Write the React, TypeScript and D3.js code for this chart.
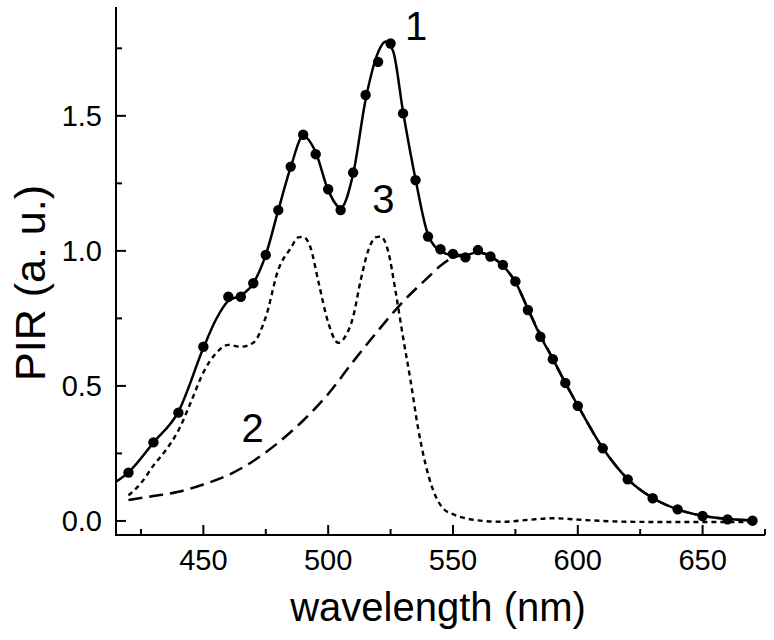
import React from "react";
import * as d3 from "d3";

// Measured points (filled circles), curve 1
const dotWavelengths = [420, 430, 440, 450, 460, 465, 470, 475, 480, 485, 490, 495, 500, 505, 510, 515, 520, 525, 530, 535, 540, 545, 550, 555, 560, 565, 570, 575, 580, 585, 590, 595, 600, 610, 620, 630, 640, 650, 660, 670];
const dotValues = [0.179, 0.291, 0.401, 0.645, 0.830, 0.830, 0.880, 0.985, 1.151, 1.312, 1.430, 1.358, 1.228, 1.151, 1.290, 1.577, 1.700, 1.768, 1.509, 1.262, 1.053, 1.006, 0.989, 0.976, 1.003, 0.979, 0.948, 0.887, 0.781, 0.682, 0.599, 0.511, 0.426, 0.269, 0.154, 0.084, 0.043, 0.0185, 0.006, 0.001];

// Fit line (solid), curve 1
const fitWavelengths = [415, 420, 430, 440, 450, 455, 460, 465, 470, 475, 480, 485, 490, 495, 500, 505, 510, 515, 520, 523, 526, 530, 535, 540, 545, 550, 555, 560, 565, 570, 575, 580, 585, 590, 595, 600, 610, 620, 630, 640, 650, 660, 670];
const fitValues = [0.145, 0.180, 0.290, 0.405, 0.640, 0.745, 0.815, 0.835, 0.880, 0.985, 1.150, 1.310, 1.425, 1.365, 1.225, 1.160, 1.285, 1.560, 1.735, 1.775, 1.740, 1.515, 1.265, 1.060, 1.000, 0.985, 0.985, 0.995, 0.980, 0.945, 0.885, 0.785, 0.685, 0.600, 0.510, 0.428, 0.270, 0.155, 0.085, 0.043, 0.019, 0.007, 0.002];

// Curve 2 (long dashes)
const c2Wavelengths = [420, 430, 440, 450, 460, 470, 480, 490, 500, 510, 520, 530, 540, 545, 550, 555, 560, 565, 570, 575, 580, 590, 600, 610, 620, 630, 640, 650, 660, 670];
const c2Values = [0.078, 0.092, 0.108, 0.135, 0.170, 0.222, 0.290, 0.372, 0.470, 0.590, 0.705, 0.812, 0.902, 0.945, 0.975, 0.985, 0.995, 0.980, 0.945, 0.885, 0.785, 0.600, 0.428, 0.270, 0.155, 0.085, 0.043, 0.019, 0.007, 0.002];

// Curve 3 (short dashes)
const c3Wavelengths = [420, 425, 430, 435, 440, 445, 450, 455, 460, 465, 470, 475, 480, 485, 488, 490, 493, 496, 500, 504, 507, 510, 513, 516, 519, 521, 524, 527, 530, 533, 536, 539, 542, 546, 550, 555, 560, 570, 580, 590, 600, 610, 620, 640, 670];
const c3Values = [0.095, 0.140, 0.205, 0.263, 0.335, 0.440, 0.550, 0.620, 0.652, 0.645, 0.660, 0.755, 0.930, 1.010, 1.050, 1.052, 1.010, 0.890, 0.735, 0.660, 0.685, 0.756, 0.890, 1.000, 1.050, 1.053, 1.000, 0.850, 0.680, 0.520, 0.345, 0.210, 0.115, 0.047, 0.025, 0.010, 0.002, -0.003, 0.004, 0.010, 0.005, 0.000, -0.003, -0.004, -0.004];

const xTicksMajor = [450, 500, 550, 600, 650];
const xTicksMinor = [425, 475, 525, 575, 625, 675];
const yTicksMajor = [0.0, 0.5, 1.0, 1.5];
const yTicksMinor = [0.25, 0.75, 1.25, 1.75];

const curveLabels = ["1", "2", "3"];
const curveLabelAt = [[535.2, 1.781], [469.7, 0.294], [522.1, 1.139]];

const xTitle = "wavelength (nm)";
const yTitle = "PIR (a. u.)";

export default function App() {
  const W = 774, H = 640;
  const x = d3.scaleLinear().domain([415, 675]).range([116, 765]);
  const y = d3.scaleLinear().domain([-0.052, 1.903]).range([535, 7]);
  const font = "'Liberation Sans', Arial, sans-serif";

  const mk = (xs: number[], vs: number[]) =>
    d3.line<number>().x((_, i) => x(xs[i])).y((v) => y(v)).curve(d3.curveMonotoneX)(vs) || "";

  return (
    <svg width={W} height={H} style={{ position: "absolute", left: 0, top: 0, background: "#fff" }}>
      {/* curves */}
      <path d={mk(c2Wavelengths, c2Values)} fill="none" stroke="#000" strokeWidth={2.5} strokeDasharray="14,7" />
      <path d={mk(c3Wavelengths, c3Values)} fill="none" stroke="#000" strokeWidth={2.4} strokeDasharray="5,4" />
      <path d={mk(fitWavelengths, fitValues)} fill="none" stroke="#000" strokeWidth={2.5} />
      {dotValues.map((v, i) => (
        <circle key={i} cx={x(dotWavelengths[i])} cy={y(v)} r={5.2} fill="#000" />
      ))}

      {/* axes */}
      <line x1={x(415)} x2={x(415)} y1={y(1.903)} y2={y(-0.052)} stroke="#000" strokeWidth={2} />
      <line x1={x(415) - 1} x2={x(675)} y1={y(-0.052)} y2={y(-0.052)} stroke="#000" strokeWidth={2} />
      {xTicksMajor.map((t) => (
        <g key={"xm" + t}>
          <line x1={x(t)} x2={x(t)} y1={y(-0.052)} y2={y(-0.052) - 10} stroke="#000" strokeWidth={2} />
          <text x={x(t)} y={570} textAnchor="middle" fontFamily={font} fontSize={29}>{t}</text>
        </g>
      ))}
      {xTicksMinor.map((t) => (
        <line key={"xn" + t} x1={x(t)} x2={x(t)} y1={y(-0.052)} y2={y(-0.052) - 6} stroke="#000" strokeWidth={2} />
      ))}
      {yTicksMajor.map((t) => (
        <g key={"ym" + t}>
          <line x1={x(415)} x2={x(415) + 10} y1={y(t)} y2={y(t)} stroke="#000" strokeWidth={2} />
          <text x={102} y={y(t) + 10.5} textAnchor="end" fontFamily={font} fontSize={29}>{t.toFixed(1)}</text>
        </g>
      ))}
      {yTicksMinor.map((t) => (
        <line key={"yn" + t} x1={x(415)} x2={x(415) + 6} y1={y(t)} y2={y(t)} stroke="#000" strokeWidth={2} />
      ))}

      {/* titles */}
      <text x={438} y={621} textAnchor="middle" fontFamily={font} fontSize={40}>{xTitle}</text>
      <text transform={`translate(45,283) rotate(-90)`} textAnchor="middle" fontFamily={font} fontSize={43}>{yTitle}</text>

      {/* curve labels */}
      {curveLabels.map((l, i) => (
        <text key={l} x={x(curveLabelAt[i][0])} y={y(curveLabelAt[i][1])} textAnchor="middle" fontFamily={font} fontSize={40}>{l}</text>
      ))}
    </svg>
  );
}
